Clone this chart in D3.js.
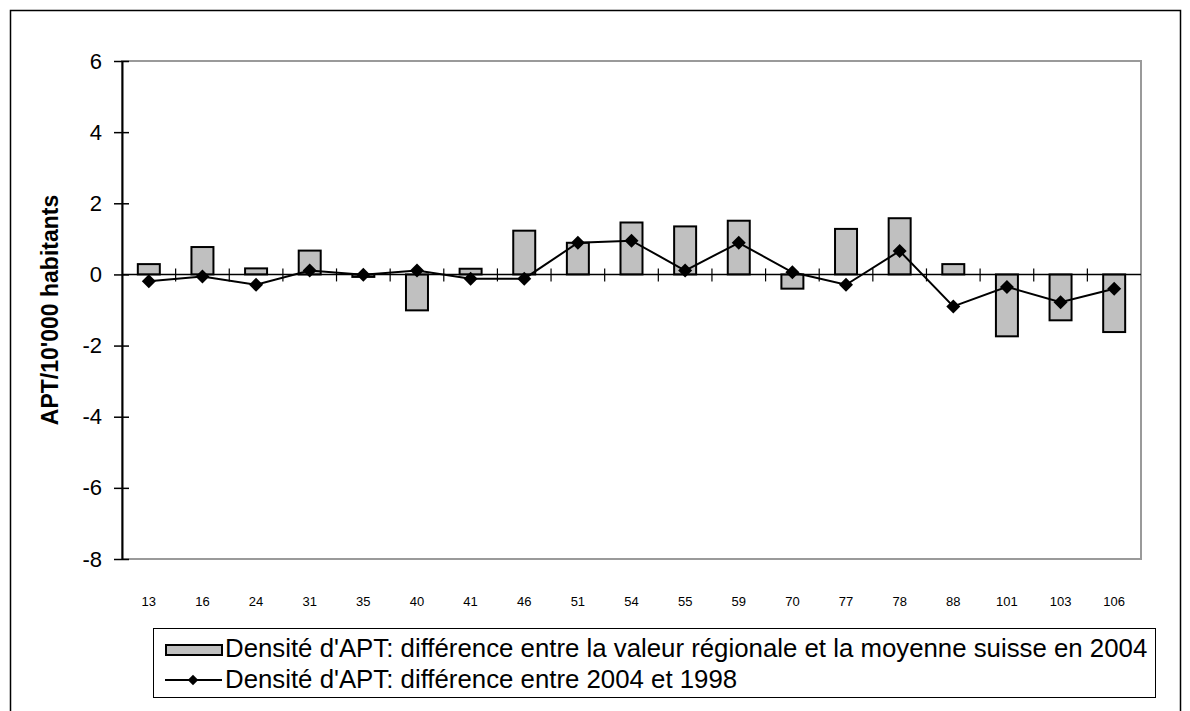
<!DOCTYPE html>
<html>
<head>
<meta charset="utf-8">
<script src="https://cdn.jsdelivr.net/npm/d3@7"></script>
<style>
  html, body { margin: 0; padding: 0; background: #fff; }
  svg { display: block; font-family: "Liberation Sans", Arial, sans-serif; }
</style>
</head>
<body>
<svg id="chart" width="1190" height="711"></svg>
<script>
const categories = ["13","16","24","31","35","40","41","46","51","54","55","59","70","77","78","88","101","103","106"];
const barValues  = [0.29, 0.77, 0.17, 0.67, -0.07, -1.01, 0.16, 1.23, 0.89, 1.46, 1.35, 1.51, -0.40, 1.28, 1.58, 0.29, -1.74, -1.29, -1.62];
const lineValues = [-0.19, -0.06, -0.29, 0.11, -0.01, 0.11, -0.12, -0.12, 0.89, 0.95, 0.11, 0.89, 0.06, -0.29, 0.66, -0.90, -0.35, -0.78, -0.40];
const yTicks = [-8, -6, -4, -2, 0, 2, 4, 6];
const yTitle = "APT/10'000 habitants";
const legendBar = "Densité d'APT: différence entre la valeur régionale et la moyenne suisse en 2004";
const legendLine = "Densité d'APT: différence entre 2004 et 1998";

const svg = d3.select("#chart");
const m = { left: 122, right: 1141, top: 61, bottom: 559 };

// outer frame
svg.append("rect").attr("x", 10.5).attr("y", 10.5).attr("width", 1170).attr("height", 710)
  .attr("fill", "none").attr("stroke", "#000").attr("stroke-width", 1.5);

const x = d3.scaleBand().domain(categories).range([m.left, m.right]).paddingInner(0).paddingOuter(0);
const y = d3.scaleLinear().domain([-8, 6]).range([m.bottom, m.top]);

// plot area border (gray)
svg.append("rect").attr("x", m.left).attr("y", m.top)
  .attr("width", m.right - m.left).attr("height", m.bottom - m.top)
  .attr("fill", "none").attr("stroke", "#9a9a9a").attr("stroke-width", 2);

// y axis (ticks cross the axis)
const yAxis = svg.append("g").attr("transform", `translate(${m.left},0)`)
  .call(d3.axisLeft(y).tickValues(yTicks).tickSize(8).tickSizeOuter(0).tickPadding(12)
    .tickFormat((d) => String(d)));
yAxis.select(".domain").attr("stroke", "#000").attr("stroke-width", 2);
yAxis.selectAll(".tick line").attr("x1", 7).attr("stroke", "#000").attr("stroke-width", 1.5);
yAxis.selectAll(".tick text").attr("font-size", 22).attr("fill", "#000")
  .attr("font-family", "Liberation Sans, Arial, sans-serif");

// y title
svg.append("text")
  .attr("transform", `translate(52,${(m.top + m.bottom) / 2}) rotate(-90)`)
  .attr("text-anchor", "middle").attr("dominant-baseline", "middle")
  .attr("font-size", 23).attr("font-weight", "bold").text(yTitle);

// bars
const bw = x.bandwidth() * 0.41;
svg.append("g").selectAll("rect").data(categories).join("rect")
  .attr("x", (d) => x(d) + (x.bandwidth() - bw) / 2)
  .attr("y", (d, i) => y(Math.max(0, barValues[i])))
  .attr("width", bw)
  .attr("height", (d, i) => Math.abs(y(barValues[i]) - y(0)))
  .attr("fill", "#c0c0c0").attr("stroke", "#000").attr("stroke-width", 2);

// zero axis line with crossing ticks at category boundaries
const y0 = y(0);
svg.append("line").attr("x1", m.left).attr("x2", m.right).attr("y1", y0).attr("y2", y0)
  .attr("stroke", "#000").attr("stroke-width", 1.5);
const bounds = categories.slice(1).map((c) => x(c));
svg.append("g").selectAll("line").data(bounds).join("line")
  .attr("x1", (d) => d).attr("x2", (d) => d)
  .attr("y1", y0 - 6).attr("y2", y0 + 7)
  .attr("stroke", "#000").attr("stroke-width", 1.2);

// line series
const line = d3.line().x((d, i) => x(categories[i]) + x.bandwidth() / 2).y((d) => y(d));
svg.append("path").datum(lineValues).attr("d", line)
  .attr("fill", "none").attr("stroke", "#000").attr("stroke-width", 2);
const diamond = d3.symbol().type(d3.symbolSquare).size(98);
svg.append("g").selectAll("path").data(lineValues).join("path")
  .attr("d", diamond)
  .attr("transform", (d, i) => `translate(${x(categories[i]) + x.bandwidth() / 2},${y(d)}) rotate(45)`)
  .attr("fill", "#000");

// x labels
const xAxis = svg.append("g").attr("transform", `translate(0,${m.bottom})`)
  .call(d3.axisBottom(x).tickSize(0).tickPadding(38));
xAxis.select(".domain").remove();
xAxis.selectAll(".tick text").attr("font-size", 13).attr("fill", "#000")
  .attr("font-family", "Liberation Sans, Arial, sans-serif");

// legend
const lg = svg.append("g");
lg.append("rect").attr("x", 153.5).attr("y", 628.5).attr("width", 1002).attr("height", 69)
  .attr("fill", "#fff").attr("stroke", "#000").attr("stroke-width", 1);
lg.append("rect").attr("x", 166).attr("y", 645).attr("width", 56).attr("height", 10)
  .attr("fill", "#c0c0c0").attr("stroke", "#000").attr("stroke-width", 2);
lg.append("text").attr("x", 225).attr("y", 650).attr("dominant-baseline", "middle")
  .attr("font-size", 25.8).text(legendBar);
lg.append("line").attr("x1", 165).attr("x2", 222).attr("y1", 680).attr("y2", 680)
  .attr("stroke", "#000").attr("stroke-width", 2);
lg.append("path").attr("d", d3.symbol().type(d3.symbolSquare).size(55)())
  .attr("transform", "translate(193,680) rotate(45)").attr("fill", "#000");
lg.append("text").attr("x", 225).attr("y", 681).attr("dominant-baseline", "middle")
  .attr("font-size", 25.8).text(legendLine);
</script>
</body>
</html>
